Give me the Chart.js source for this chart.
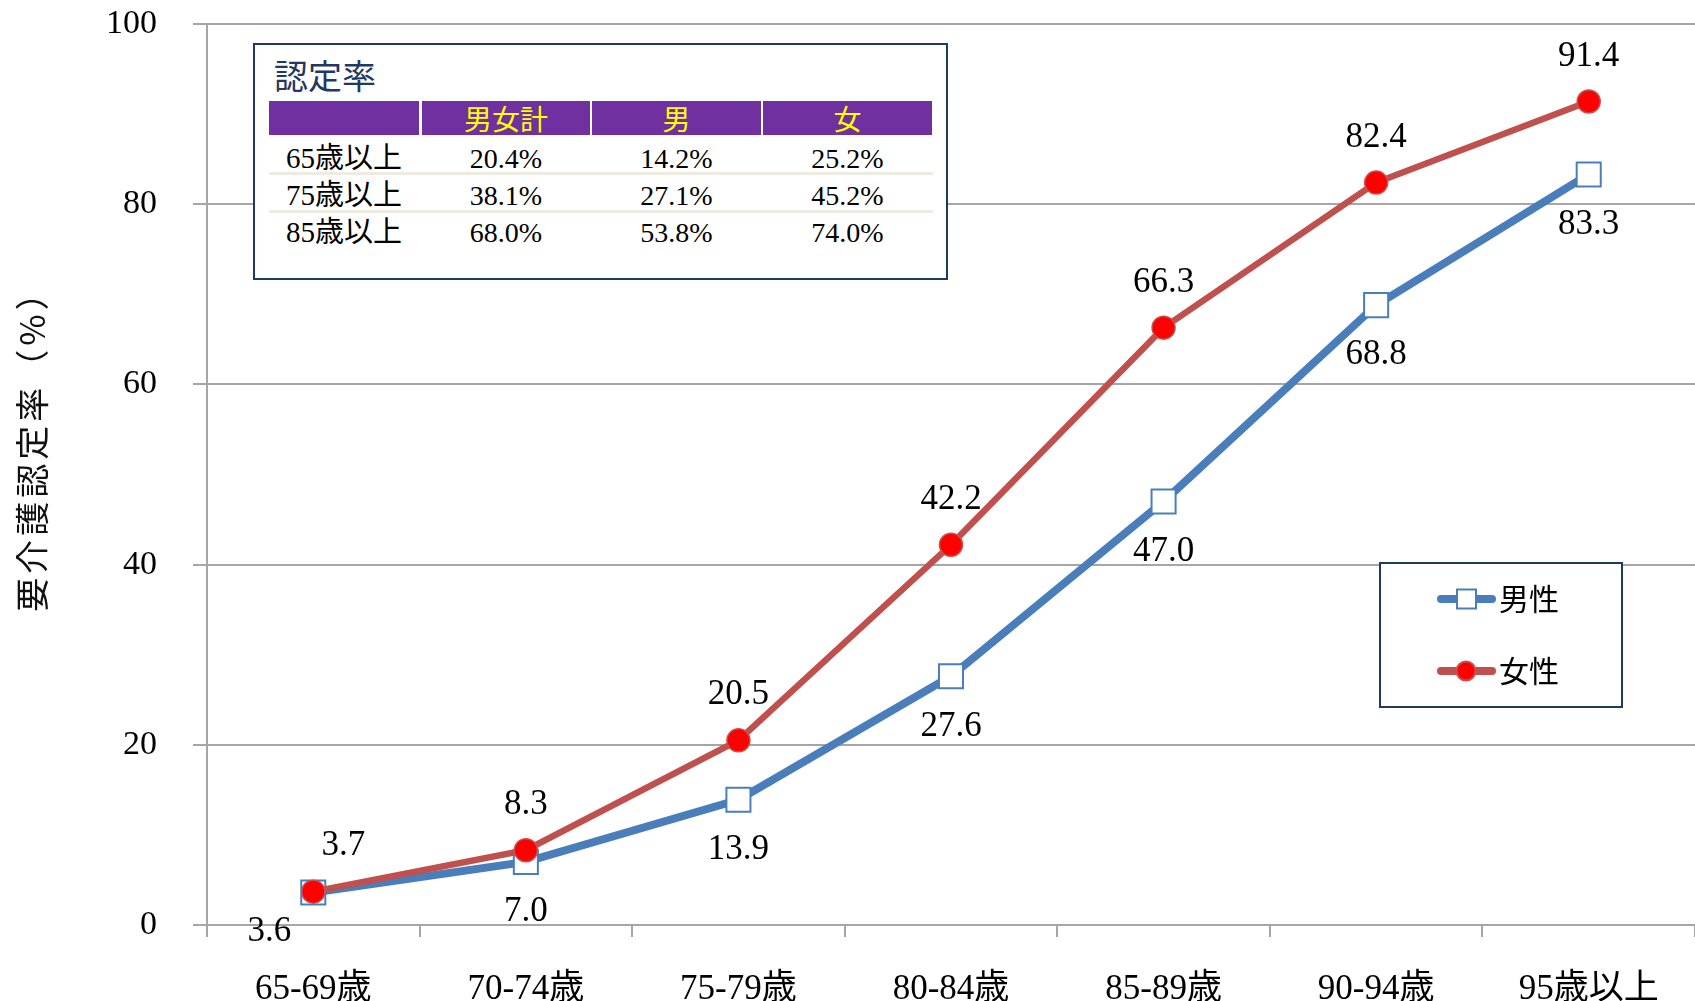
<!DOCTYPE html>
<html>
<head>
<meta charset="utf-8">
<script src="https://cdn.jsdelivr.net/npm/chart.js@4.4.1/dist/chart.umd.min.js"></script>
<style>
  html, body { margin: 0; padding: 0; background: #fff; }
  #wrap { position: relative; width: 1695px; height: 1001px; }
  #inset { position: absolute; left: 253px; top: 43px; width: 695px; height: 237px;
           box-sizing: border-box; border: 2px solid #1f3864; background: #fff; }
  #inset div { position: absolute; white-space: nowrap; }
  .ttl { font: 34px "Noto Sans CJK JP"; color: #1f3864; }
  .hd { background: #7030a0; color: #ffff00; font: 28px "Noto Sans CJK JP"; text-align: center; }
  .sep { background: #eeece1; }
  .cell { font: 28px "Liberation Serif", "Noto Sans CJK JP"; color: #000; text-align: center; }
  .rl { font: 29px "Liberation Serif", "Noto Sans CJK JP"; color: #000; }
</style>
</head>
<body>
<div id="wrap">
  <canvas id="chart" width="1695" height="1001"></canvas>
  <div id="inset"></div>
</div>
<script>
const categories = ['65-69歳', '70-74歳', '75-79歳', '80-84歳', '85-89歳', '90-94歳', '95歳以上'];
const maleRates = [3.6, 7.0, 13.9, 27.6, 47.0, 68.8, 83.3];
const femaleRates = [3.7, 8.3, 20.5, 42.2, 66.3, 82.4, 91.4];
const yTicks = [0, 20, 40, 60, 80, 100];

const tableTitle = '認定率';
const tableHeaders = ['男女計', '男', '女'];
const tableRowLabels = ['65歳以上', '75歳以上', '85歳以上'];
const tableTotal = ['20.4%', '38.1%', '68.0%'];
const tableMale = ['14.2%', '27.1%', '53.8%'];
const tableFemale = ['25.2%', '45.2%', '74.0%'];

// inset table
const inset = document.getElementById('inset');
function box(cls, left, top, w, h, text) {
  const d = document.createElement('div');
  d.className = cls;
  d.style.left = left + 'px';
  d.style.top = top + 'px';
  if (w) d.style.width = w + 'px';
  d.style.height = h + 'px';
  d.style.lineHeight = h + 'px';
  if (text) d.textContent = text;
  inset.appendChild(d);
}
const colLeft = [14, 167, 337, 508];
const colWidth = [150, 168, 169, 169];
box('ttl', 19, 13, 0, 34, tableTitle);
box('hd', colLeft[0], 56, colWidth[0], 34, '');
tableHeaders.forEach((h, i) => box('hd', colLeft[i + 1], 56, colWidth[i + 1], 34, h));
box('sep', 14, 127, 664, 3, '');
box('sep', 14, 165, 664, 3, '');
const cols = [tableTotal, tableMale, tableFemale];
tableRowLabels.forEach((lab, r) => {
  const top = 95 + r * 37;
  box('rl', 31, top, 0, 37, lab);
  cols.forEach((c, i) => box('cell', colLeft[i + 1], top, colWidth[i + 1], 37, c[r]));
});

const serif = '"Liberation Serif", "Noto Sans CJK JP"';
const gridGray = '#a6a6a6';

// value labels above (female) and below (male) the points
const valueLabels = {
  id: 'valueLabels',
  afterDatasetsDraw(chart) {
    const ctx = chart.ctx;
    ctx.save();
    ctx.font = '35px ' + serif;
    ctx.fillStyle = '#000';
    ctx.textAlign = 'center';
    ctx.textBaseline = 'middle';
    chart.data.datasets.forEach((ds, i) => {
      const meta = chart.getDatasetMeta(i);
      const above = ds.labelSide === 'above';
      meta.data.forEach((pt, j) => {
        let dx = 0, dy = above ? -45 : 50;
        if (j === 0) { dx = above ? 30 : -44; dy = above ? -46 : 39; }
        ctx.fillText(ds.data[j].toFixed(1), pt.x + dx, pt.y + dy);
      });
    });
    ctx.restore();
  }
};

// y title + legend box
const extras = {
  id: 'extras',
  afterDraw(chart) {
    const ctx = chart.ctx;
    ctx.save();
    ctx.translate(32, 442);
    ctx.rotate(-Math.PI / 2);
    ctx.font = '34px "Noto Sans CJK JP"';
    ctx.letterSpacing = '4px';
    ctx.fillStyle = '#111';
    ctx.textAlign = 'center';
    ctx.textBaseline = 'middle';
    ctx.fillText('要介護認定率（%）', 0, 0);
    ctx.restore();

    ctx.save();
    ctx.fillStyle = '#fff';
    ctx.fillRect(1380, 563, 242, 144);
    ctx.strokeStyle = '#1f3864';
    ctx.lineWidth = 2;
    ctx.strokeRect(1380, 563, 242, 144);
    const items = [chart.data.datasets[1], chart.data.datasets[0]];
    items.forEach((ds, k) => {
      const y = 599 + k * 72;
      ctx.strokeStyle = ds.borderColor;
      ctx.lineWidth = 8;
      ctx.lineCap = 'round';
      ctx.beginPath();
      ctx.moveTo(1441, y);
      ctx.lineTo(1492, y);
      ctx.stroke();
      ctx.fillStyle = ds.pointBackgroundColor;
      ctx.strokeStyle = ds.pointBorderColor;
      ctx.lineWidth = 2;
      ctx.beginPath();
      if (ds.pointStyle === 'rect') ctx.rect(1457, y - 9.5, 19, 19);
      else ctx.arc(1466, y, 9.5, 0, Math.PI * 2);
      ctx.fill();
      ctx.stroke();
      ctx.fillStyle = '#000';
      ctx.font = '30px "Noto Sans CJK JP"';
      ctx.textAlign = 'left';
      ctx.textBaseline = 'middle';
      ctx.fillText(ds.label, 1499, y);
    });
    ctx.restore();
  }
};

new Chart(document.getElementById('chart').getContext('2d'), {
  type: 'line',
  data: {
    labels: categories,
    datasets: [{
      label: '女性',
      data: femaleRates,
      labelSide: 'above',
      borderColor: '#c0504d',
      borderWidth: 6.5,
      pointStyle: 'circle',
      pointRadius: 11.5,
      pointBackgroundColor: '#ff0000',
      pointBorderColor: '#c8504d',
      pointBorderWidth: 1.5,
      tension: 0,
      order: 0
    }, {
      label: '男性',
      data: maleRates,
      labelSide: 'below',
      borderColor: '#4a7ebb',
      borderWidth: 8,
      pointStyle: 'rect',
      pointRadius: 17,
      pointBackgroundColor: '#ffffff',
      pointBorderColor: '#4a7ebb',
      pointBorderWidth: 2,
      tension: 0,
      order: 1
    }]
  },
  options: {
    responsive: false,
    animation: false,
    devicePixelRatio: 1,
    layout: { autoPadding: false, padding: { top: 24, left: 0, right: 0, bottom: 0 } },
    plugins: { legend: { display: false }, tooltip: { enabled: false } },
    scales: {
      x: {
        offset: true,
        grid: { offset: true, drawOnChartArea: false, tickLength: 12, color: gridGray, lineWidth: 2 },
        border: { color: gridGray, width: 2 },
        ticks: { font: { family: serif, size: 35 }, color: '#000', padding: 32, maxRotation: 0, autoSkip: false },
        afterFit(s) { s.height = 76; s.paddingLeft = 0; s.paddingRight = 0; }
      },
      y: {
        min: 0,
        max: 100,
        afterBuildTicks(s) { s.ticks = yTicks.map(v => ({ value: v })); },
        grid: { color: gridGray, lineWidth: 2, tickLength: 14 },
        border: { color: gridGray, width: 2 },
        ticks: { font: { family: serif, size: 34 }, color: '#000', padding: 36 },
        afterFit(s) { s.width = 207; s.paddingTop = 0; s.paddingBottom = 0; }
      }
    }
  },
  plugins: [valueLabels, extras]
});
</script>
</body>
</html>
